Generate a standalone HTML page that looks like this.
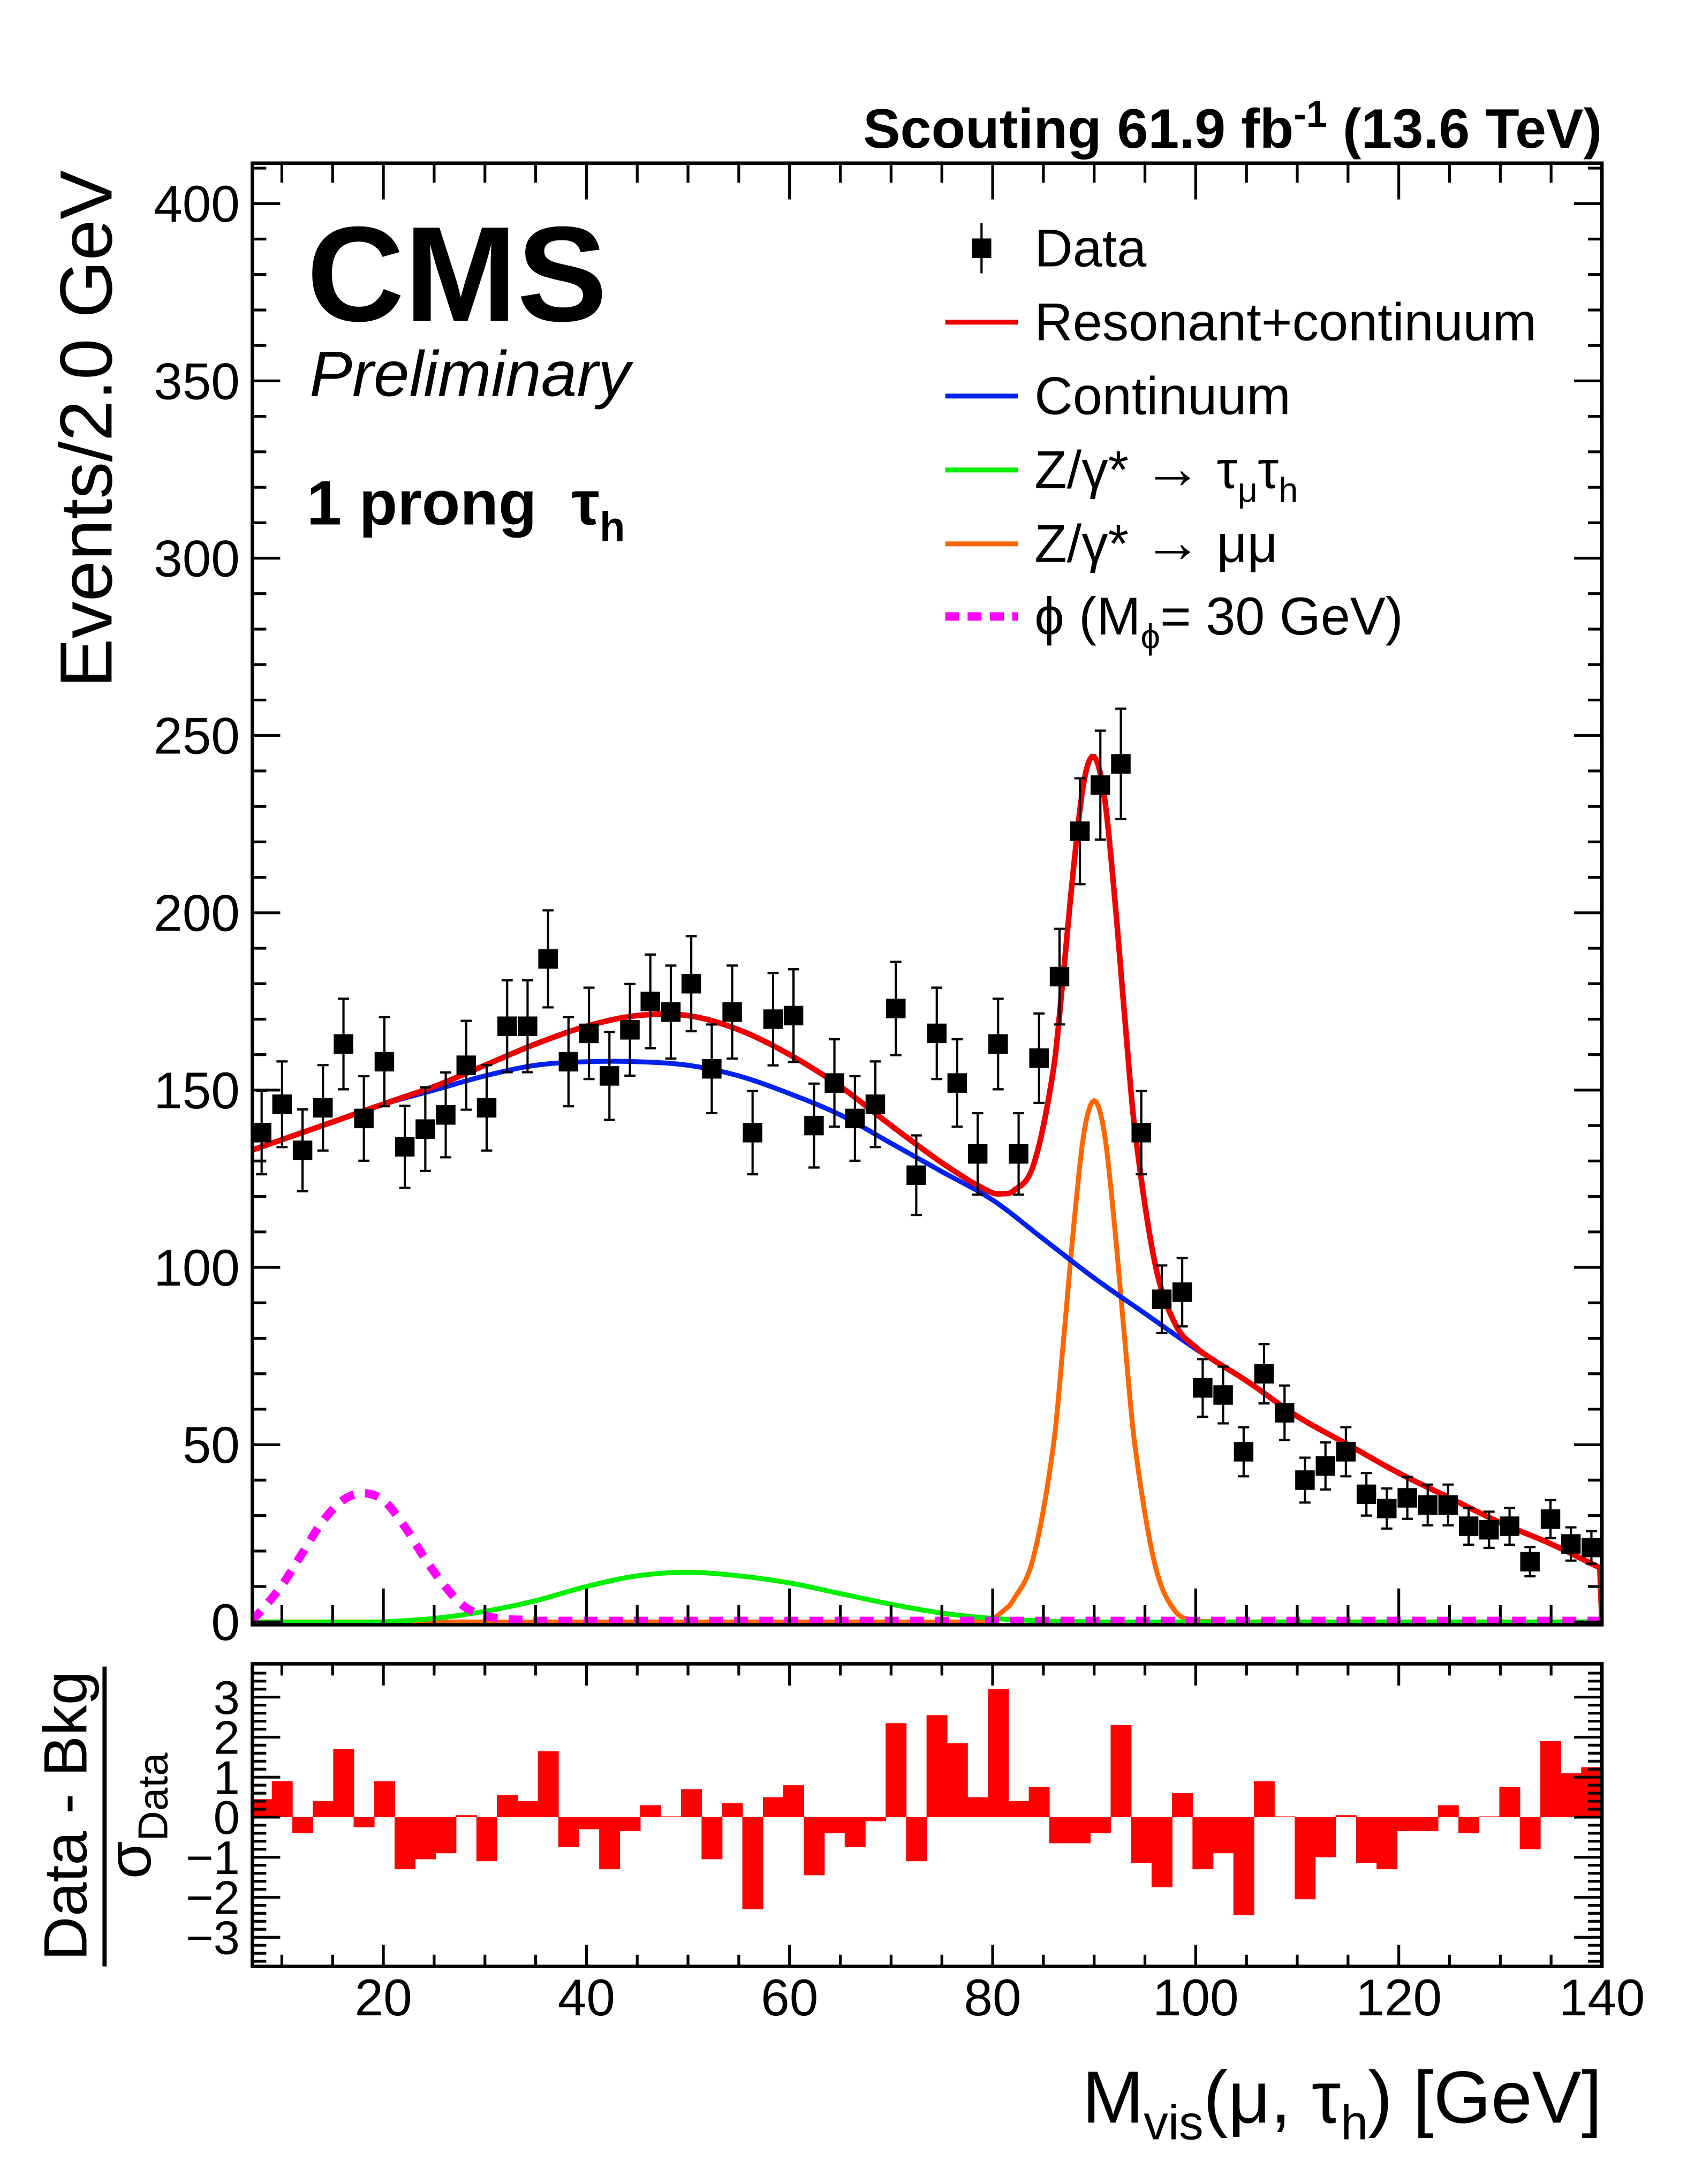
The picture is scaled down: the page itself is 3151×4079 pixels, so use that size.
<!DOCTYPE html>
<html><head><meta charset="utf-8"><style>
html,body{margin:0;padding:0;background:#fff}
svg{display:block}
text{font-family:"Liberation Sans",sans-serif}
</style></head><body>
<svg id="chart" width="3151" height="4079" viewBox="0 0 1210 1566" preserveAspectRatio="none" xmlns="http://www.w3.org/2000/svg">
<g id="main"></g>
<g id="ratio"></g>
<text x="1149" y="106" font-size="40" font-weight="bold" text-anchor="end">Scouting 61.9 fb<tspan dy="-15" font-size="27">-1</tspan><tspan dy="15"> (13.6 TeV)</tspan></text>
<text x="220" y="230" font-size="97" font-weight="bold">CMS</text>
<text x="222" y="284" font-size="46" font-style="italic">Preliminary</text>
<text x="220" y="376" font-size="45" font-weight="bold" xml:space="preserve">1 prong  τ<tspan dy="12" font-size="30">h</tspan></text>
<text transform="translate(80,122) rotate(-90)" font-size="53" text-anchor="end">Events/2.0 GeV</text>
<text transform="translate(62,1302) rotate(-90)" font-size="44" text-anchor="middle">Data - Bkg</text>
<line x1="75" y1="1195" x2="75" y2="1410" stroke="#000" stroke-width="3"/>
<text transform="translate(108,1302) rotate(-90)" font-size="44" text-anchor="middle">σ<tspan dy="12" font-size="30">Data</tspan></text>
<text x="1149" y="1522" font-size="53" text-anchor="end">M<tspan dy="12" font-size="35">vis</tspan><tspan dy="-12">(μ, τ</tspan><tspan dy="12" font-size="35">h</tspan><tspan dy="-12">) [GeV]</tspan></text>
<g id="legend"></g>
</svg>
<script>
// ---- data ----
const binCenters = [8.01,10.02,12.04,14.05,16.07,18.08,20.10,22.11,24.13,26.14,28.16,30.17,32.19,34.20,36.22,38.23,40.25,42.26,44.28,46.29,48.31,50.32,52.34,54.35,56.36,58.38,60.39,62.41,64.42,66.44,68.45,70.47,72.48,74.50,76.51,78.53,80.54,82.56,84.57,86.59,88.60,90.61,92.63,94.64,96.66,98.67,100.69,102.70,104.72,106.73,108.75,110.76,112.78,114.79,116.81,118.82,120.84,122.85,124.86,126.88,128.89,130.91,132.92,134.94,136.95,138.97];
const binWidth = 2.015;
const dataCounts = [138,146,133,145,163,142,158,134,139,143,157,145,168,168,187,158,166,154,167,175,172,180,156,172,138,170,171,140,152,142,146,173,126,166,152,132,163,132,159,182,223,236,242,138,91,93,66,64,48,70,59,40,44,48,36,32,35,33,33,27,26,27,17,29,22,21];
const pullValues = [0.45,0.9,-0.4,0.4,1.7,-0.25,0.9,-1.3,-1.05,-0.9,0.05,-1.1,0.55,0.4,1.65,-0.75,-0.3,-1.3,-0.35,0.3,0.02,0.7,-1.05,0.35,-2.3,0.5,0.8,-1.45,-0.4,-0.75,-0.1,2.35,-1.1,2.55,1.85,0.5,3.2,0.4,0.75,-0.65,-0.65,-0.4,2.3,-1.15,-1.75,0.6,-1.3,-0.9,-2.45,0.9,0.02,-2.05,-1.0,0.05,-1.15,-1.3,-0.35,-0.35,0.3,-0.4,0.02,0.75,-0.8,1.9,1.1,1.25];
const contX = [7,10,15,20,25,30,35,40,45,50,55,60,65,70,75,80,85,90,95,100,105,110,115,120,125,130,135,140];
const contY = [133,136,141,146,150,154,157,158,158,157,154,149,143,135,127,119,108,97,87,77,68,58,50,42,35,28,22,15];
const ztautauX = [20,25,30,35,40,45,50,55,60,65,70,75,80,85,90];
const ztautauY = [0,1,3,6,10,13,14,13,11,8,5,2.5,1,0.3,0];
const zmumuX = [78,80,81,82,84,86,87,88,89,90,91,92,93,94,96,98,100,102];
const zmumuY = [0,1,3,6,18,50,80,112,138,147,138,112,80,50,16,3,0.5,0];
const phiX = [7,8,10,12,14,16,18,20,22,24,26,28,30,32,34];
const phiY = [0,3,10,19,28,34,36,34,27,18,10,4,1.5,0.5,0.3];
const yTicksMain = [0,50,100,150,200,250,300,350,400];
const yTicksRatio = [3,2,1,0,-1,-2,-3];
const xTicks = [20,40,60,80,100,120,140];

// ---- axes ----
const X = v => 180.3 + (v - 7) * 7.283;
const Y = v => 1163 - v * 2.5425;
const R = v => 1303 - v * 28.7;
const L=181, RT=1149, MT=117, MB=1165, RTOP=1193, RB=1410;
const NS='http://www.w3.org/2000/svg';
function mk(parent, tag, attrs){const e=document.createElementNS(NS,tag);for(const k in attrs)e.setAttribute(k,attrs[k]);parent.appendChild(e);return e;}
const main=document.getElementById('main'), ratio=document.getElementById('ratio'), legend=document.getElementById('legend');

function interp(xs, ys, x){
  if(x<xs[0]||x>xs[xs.length-1]) return 0;
  let i=0; while(i<xs.length-2 && x>xs[i+1]) i++;
  const x0=xs[i],x1=xs[i+1],t=(x-x0)/(x1-x0);
  const p1=ys[i],p2=ys[i+1];
  const p0=i>0?ys[i-1]:p1-(p2-p1), p3=i+2<xs.length?ys[i+2]:p2+(p2-p1);
  const h0=i>0?x0-xs[i-1]:x1-x0, h2=i+2<xs.length?xs[i+2]-x1:x1-x0, h=x1-x0;
  const m1=((p2-p0)/(h+h0))*h, m2=((p3-p1)/(h+h2))*h;
  const t2=t*t,t3=t2*t;
  return (2*t3-3*t2+1)*p1+(t3-2*t2+t)*m1+(-2*t3+3*t2)*p2+(t3-t2)*m2;
}
function curvePath(fn, x0, x1){
  let d='';for(let x=x0;x<=x1+1e-9;x+=0.2){d+=(d?'L':'M')+X(x).toFixed(2)+','+Y(Math.max(0,fn(x))).toFixed(2);}return d;
}

const defs=mk(document.getElementById('chart'),'defs',{});
const cp=mk(defs,'clipPath',{id:'mclip'});mk(cp,'rect',{x:L,y:MT,width:RT-L,height:MB-MT});
const curves=mk(main,'g',{'clip-path':'url(#mclip)'});



let e;
e=mk(curves,'path',{d:curvePath(x=>interp(zmumuX,zmumuY,x),7,140),fill:'none',stroke:'#ff6600','stroke-width':3.5});


e=mk(curves,'path',{d:curvePath(x=>interp(ztautauX,ztautauY,x),7,140),fill:'none',stroke:'#00ee00','stroke-width':3.5});


e=mk(curves,'path',{d:curvePath(x=>interp(phiX,phiY,x)+0.3,7,140),fill:'none',stroke:'#ff00ff','stroke-width':6,'stroke-dasharray':'10 8'});


e=mk(curves,'path',{d:curvePath(x=>interp(contX,contY,x),7,140),fill:'none',stroke:'#0022ee','stroke-width':3.5});


e=mk(curves,'path',{d:curvePath(x=>interp(contX,contY,x)+interp(ztautauX,ztautauY,x)+interp(zmumuX,zmumuY,x),7,140),fill:'none',stroke:'#ee0000','stroke-width':4});



binCenters.forEach((c,i)=>{
  const n=dataCounts[i], err=Math.sqrt(n);
  const g=mk(main,'g',{});
  
  
  mk(g,'line',{x1:X(c),x2:X(c),y1:Y(n+err),y2:Y(n-err),stroke:'#000','stroke-width':1.6});
  mk(g,'line',{x1:X(c)-4,x2:X(c)+4,y1:Y(n+err),y2:Y(n+err),stroke:'#000','stroke-width':1.6});
  mk(g,'line',{x1:X(c)-4,x2:X(c)+4,y1:Y(n-err),y2:Y(n-err),stroke:'#000','stroke-width':1.6});
  mk(g,'rect',{x:X(c)-7,y:Y(n)-7,width:14,height:14,fill:'#000'});
});

binCenters.forEach((c,i)=>{
  const v=pullValues[i];
  const r=mk(ratio,'rect',{x:X(c-binWidth/2),width:X(c+binWidth/2)-X(c-binWidth/2)+0.3,y:Math.min(R(v),R(0)),height:Math.abs(R(v)-R(0)),fill:'#ff0000'});
  
  
});

e=mk(main,'rect',{x:L,y:MT,width:RT-L,height:MB-MT,fill:'none',stroke:'#000','stroke-width':2.5});


e=mk(ratio,'rect',{x:L,y:RTOP,width:RT-L,height:RB-RTOP,fill:'none',stroke:'#000','stroke-width':2.5});



const tk=mk(document.getElementById('chart'),'g',{stroke:'#000','stroke-width':2});


for(let v=0;v<=410;v+=10){const len=v%50===0?20:10;const y=Y(v);
  mk(tk,'line',{x1:L,x2:L+len,y1:y,y2:y});mk(tk,'line',{x1:RT-len,x2:RT,y1:y,y2:y});}
for(let v=10;v<=140;v+=5){const len=v%20===0?26:14;const x=X(v);
  mk(tk,'line',{x1:x,x2:x,y1:MB,y2:MB-len});mk(tk,'line',{x1:x,x2:x,y1:MT,y2:MT+len});
  mk(tk,'line',{x1:x,x2:x,y1:RB,y2:RB-len*0.6});mk(tk,'line',{x1:x,x2:x,y1:RTOP,y2:RTOP+len*0.6});}
for(let k=-18;k<=18;k++){const v=k*0.2;const major=Math.abs(v-Math.round(v))<1e-6;const len=major?20:10;const y=R(v);
  mk(tk,'line',{x1:L,x2:L+len,y1:y,y2:y});mk(tk,'line',{x1:RT-len,x2:RT,y1:y,y2:y});}

const lab=mk(document.getElementById('chart'),'g',{'font-size':37});
yTicksMain.forEach(v=>{const t=mk(lab,'text',{x:172,y:Y(v)+13,'text-anchor':'end'});t.textContent=v;
  
  });
yTicksRatio.forEach(v=>{const t=mk(lab,'text',{x:172,y:R(v)+12,'text-anchor':'end','font-size':34});t.textContent=v<0?'−'+(-v):v;
  
  });
xTicks.forEach(v=>{const t=mk(lab,'text',{x:X(v),y:1445,'text-anchor':'middle'});t.textContent=v;
  
  });

const rows=[
 {y:178,type:'marker',label:'Data'},
 {y:231,type:'line',color:'#ee0000',label:'Resonant+continuum'},
 {y:284,type:'line',color:'#0022ee',label:'Continuum'},
 {y:337,type:'line',color:'#00ee00',label:'Z/γ* <tspan font-size="42">→</tspan> τ<tspan dy="10" font-size="25">μ</tspan><tspan dy="-10">τ</tspan><tspan dy="10" font-size="25">h</tspan>'},
 {y:390,type:'line',color:'#ff6600',label:'Z/γ* <tspan font-size="42">→</tspan> μμ'},
 {y:442,type:'dash',color:'#ff00ff',label:'ϕ (M<tspan dy="10" font-size="25">ϕ</tspan><tspan dy="-10">= 30 GeV)</tspan>'}
];
rows.forEach(r=>{
  const g=mk(legend,'g',{});
  
  
  if(r.type==='marker'){mk(g,'line',{x1:704,x2:704,y1:r.y-18,y2:r.y+18,stroke:'#000','stroke-width':1.6});mk(g,'rect',{x:697,y:r.y-7,width:14,height:14,fill:'#000'});}
  else mk(g,'line',{x1:678,x2:730,y1:r.y,y2:r.y,stroke:r.color,'stroke-width':r.type==='dash'?6:3.5,'stroke-dasharray':r.type==='dash'?'10 6':'none'});
  const t=mk(g,'text',{x:742,y:r.y+13,'font-size':38});t.innerHTML=r.label;
});
</script>
</body></html>
